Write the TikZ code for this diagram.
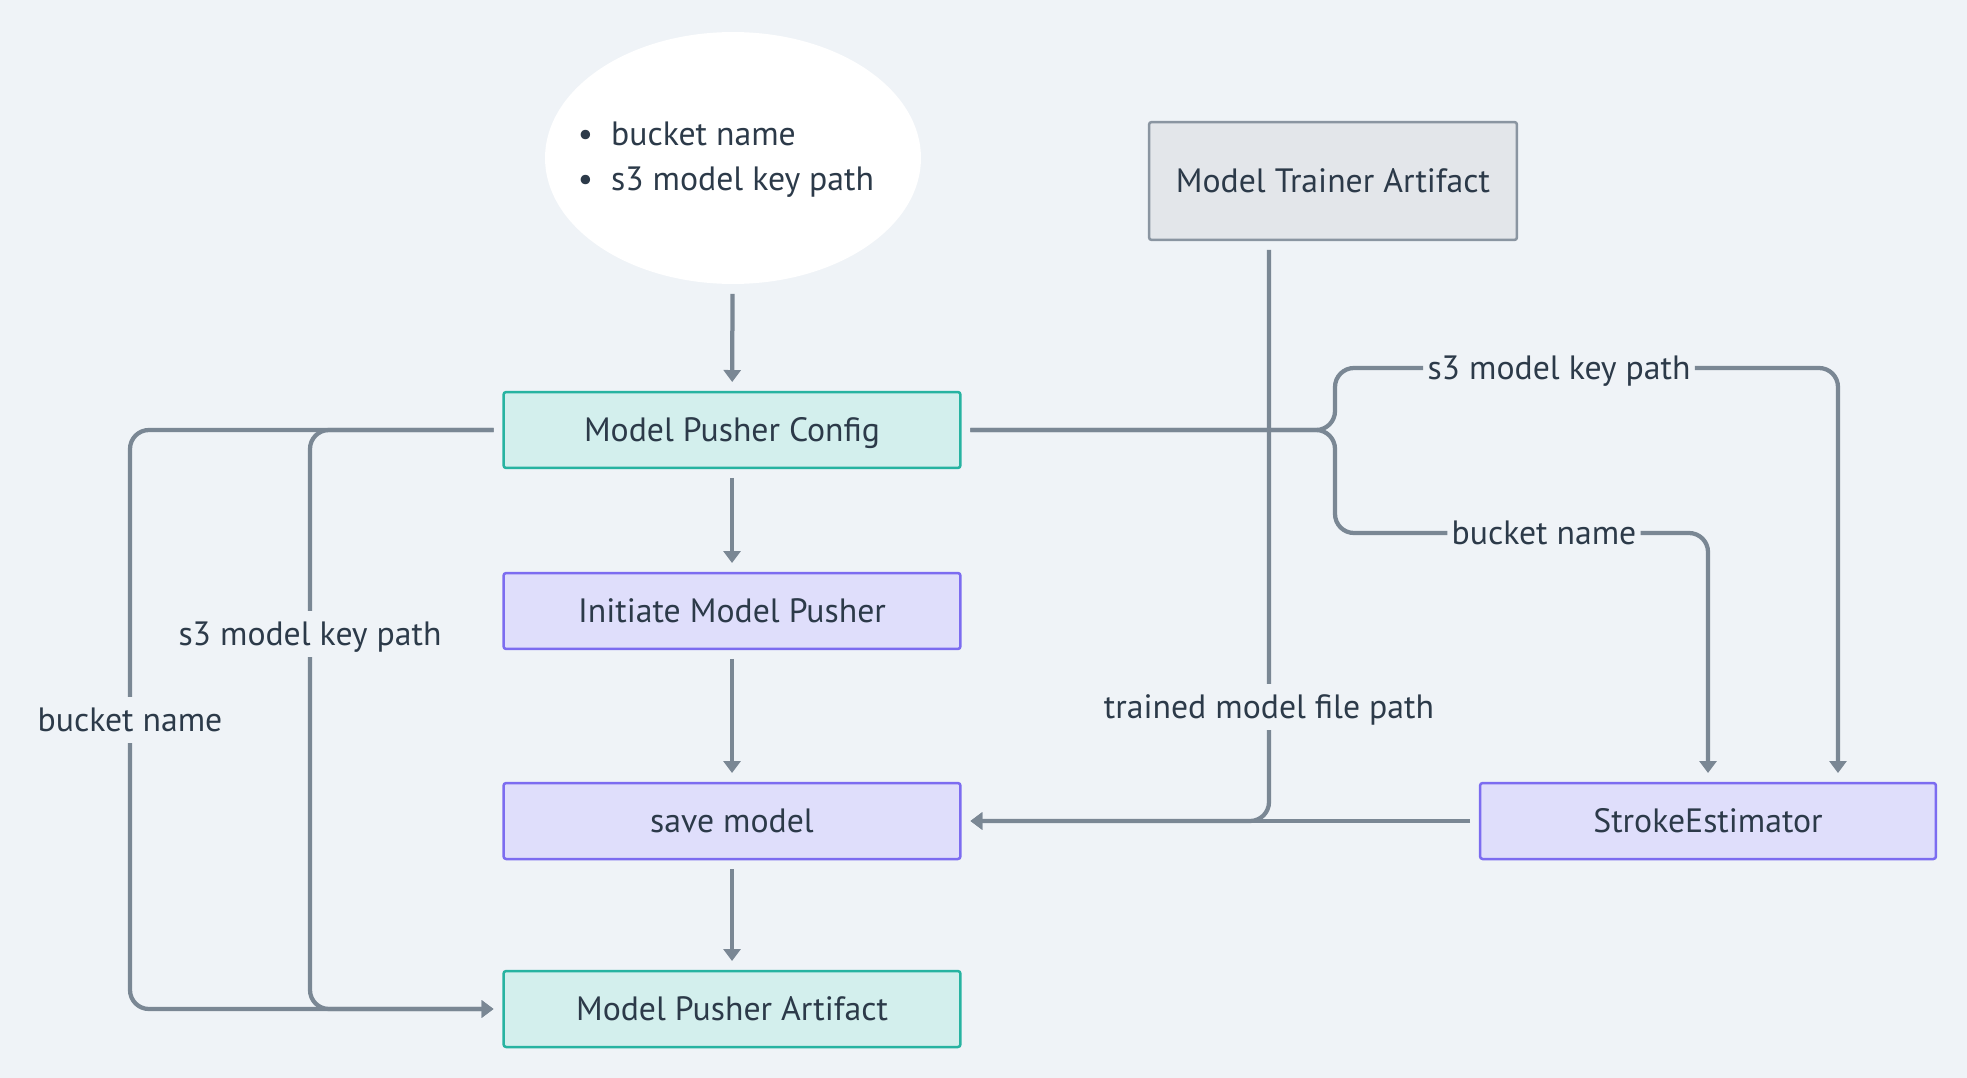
\documentclass[tikz,border=0pt]{standalone}
\usepackage{fontspec}
\setmainfont{PT Sans}
\usetikzlibrary{arrows.meta,shapes.geometric}

\definecolor{bg}{HTML}{EFF3F7}
\definecolor{wire}{HTML}{7A8794}
\definecolor{ink}{HTML}{2C3A49}
\definecolor{tealfill}{HTML}{D3EFED}
\definecolor{tealdraw}{HTML}{27B3A1}
\definecolor{lilacfill}{HTML}{DFDEFB}
\definecolor{lilacdraw}{HTML}{7C6CF0}
\definecolor{greyfill}{HTML}{E3E6EA}
\definecolor{greydraw}{HTML}{8A95A1}

\tikzset{
	box/.style={rectangle, rounded corners=1.5pt, line width=0.05cm, text=ink,
		minimum width=9.14cm, minimum height=1.52cm, outer sep=0.2cm,
		text height=0.47cm, text depth=0pt},
	configbox/.style={box, draw=tealdraw, fill=tealfill},
	stepbox/.style={box, draw=lilacdraw, fill=lilacfill},
	inputbox/.style={box, draw=greydraw, fill=greyfill, minimum width=7.36cm, minimum height=2.36cm},
	cloud/.style={ellipse, fill=white, minimum width=7.52cm, minimum height=5.04cm,
		inner sep=0pt, outer sep=0.2cm},
	lbl/.style={text=ink, inner xsep=0.08cm, inner ysep=0.22cm,
		text height=0.47cm, text depth=0pt}
}
\tikzset{
	conn/.style={draw=wire, line width=0.085cm, rounded corners=0.38cm},
	arr/.style={conn, -{Triangle[width=0.34cm,length=0.24cm]}}
}

\begin{document}
\begin{tikzpicture}[x=0.02cm, y=-0.02cm, font=\fontsize{19.2}{23}\selectfont]
		\useasboundingbox[fill=bg] (0, 0) rectangle (1967, 1078);
		% Parameter
		\node[cloud] (params) at (733, 158) {};
		\node[text=ink, align=left, font=\fontsize{19.2}{25.6}\selectfont] (paramlist) at (726, 160)
			{\textbullet\hspace{0.36cm}bucket name\\ \textbullet\hspace{0.36cm}s3 model key path};
		% Mittlere Spalte
		\node[configbox] (config) at (732, 430) {Model Pusher Config};
		\node[stepbox] (initiate) at (732, 611) {Initiate Model Pusher};
		\node[stepbox] (save) at (732, 821) {save model};
		\node[configbox] (artifact) at (732, 1009) {Model Pusher Artifact};
		% Rechte Seite
		\node[inputbox] (trainer) at (1333, 181) {Model Trainer Artifact};
		\node[stepbox, minimum width=9.12cm] (estimator) at (1708, 821) {StrokeEstimator};
		% Beschriftungen
		\node[lbl] (keyL) at (310, 634) {s3 model key path};
		\node[lbl] (bucketL) at (130, 720) {bucket name};
		\node[lbl] (keyR) at (1559, 368) {s3 model key path};
		\node[lbl] (bucketR) at (1544, 533) {bucket name};
		\node[lbl] (trained) at (1269, 707) {trained model file path};
		\coordinate (fork) at (1335, 430);
		% Linien
		\draw[arr] (params) -- (config);
		\draw[arr] (config) -- (initiate);
		\draw[arr] (initiate) -- (save);
		\draw[arr] (save) -- (artifact);
		\draw[arr] (config.west) -| (bucketL) |- (artifact.west);
		\draw[arr] (config.west) -| (keyL) |- (artifact.west);
		\draw[conn] (config.east) -| (fork |- keyR) -- (keyR);
		\draw[conn] (config.east) -| (fork |- bucketR) -- (bucketR);
		\draw[arr] (keyR) -| ([xshift=2.6cm]estimator.north);
		\draw[arr] (bucketR) -| (estimator.north);
		\draw[conn] ([xshift=-1.28cm]trainer.south) -- (trained);
		\draw[arr] (trained) |- (save.east);
		\draw[arr] (estimator.west) -- (save.east);
	\end{tikzpicture}
\end{document}
